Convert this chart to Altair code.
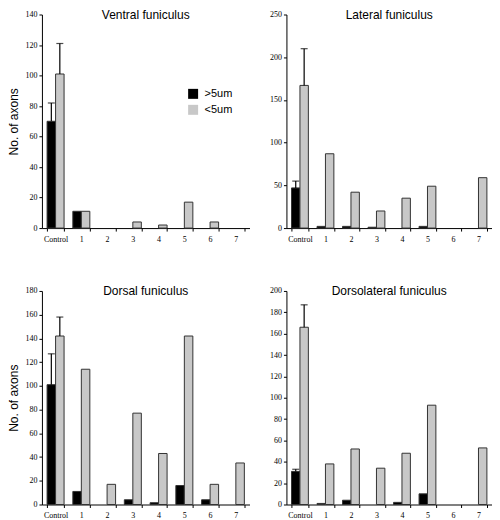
import altair as alt
import pandas as pd

categories = ["Control", "1", "2", "3", "4", "5", "6", "7"]
sizes = [">5um", "<5um"]

ventral_big = [70, 11, 0, 0, 0, 0, 0, 0]
ventral_small = [101, 11, 0, 4, 2, 17, 4, 0]
ventral_err = [12, 20]

lateral_big = [47, 2, 2, 1, 0, 2, 0, 0]
lateral_small = [167, 87, 42, 20, 35, 49, 0, 59]
lateral_err = [8, 43]

dorsal_big = [101, 11, 0, 4, 1.5, 16, 4, 0]
dorsal_small = [142, 114, 17, 77, 43, 142, 17, 35]
dorsal_err = [26, 16]

dl_big = [31, 1, 4, 0, 2, 10, 0, 0]
dl_small = [166, 38, 52, 34, 48, 93, 0, 53]
dl_err = [2, 21]

LABEL_FONT = "Liberation Sans Narrow"
TEXT_FONT = "Liberation Sans"


def panel(title, big, small, err, ymax, ystep, ytitle, legend, width, height):
    rows = []
    for i, c in enumerate(categories):
        rows.append({"cat": c, "size": sizes[0], "value": big[i],
                     "err": err[0] if c == "Control" else 0})
        rows.append({"cat": c, "size": sizes[1], "value": small[i],
                     "err": err[1] if c == "Control" else 0})
    df = pd.DataFrame(rows)
    base = alt.Chart(df)

    x = alt.X("cat:N", sort=categories,
              scale=alt.Scale(domain=categories, paddingInner=0.34, paddingOuter=0.2),
              axis=alt.Axis(title=None, labelAngle=0, tickBand="extent", tickSize=3,
                            labelFont=LABEL_FONT, labelFontSize=8, labelColor="black",
                            domainColor="black", tickColor="black", labelPadding=4,
                            grid=False))
    xo = alt.XOffset("size:N", sort=sizes, scale=alt.Scale(domain=sizes))
    yaxis = alt.Axis(values=list(range(0, ymax + 1, ystep)), title=ytitle, grid=False,
                     tickSize=3, labelFont=LABEL_FONT, labelFontSize=8,
                     labelColor="black", domainColor="black", tickColor="black",
                     titleFont=TEXT_FONT, titleFontSize=12, titleFontWeight="normal",
                     titleColor="black", labelPadding=2, titlePadding=4)
    yscale = alt.Scale(domain=[0, ymax], nice=False)

    if legend:
        leg = alt.Legend(orient="none", legendX=146, legendY=74, title=None,
                         symbolType="square", symbolSize=100, symbolStrokeWidth=0,
                         labelFont=TEXT_FONT, labelFontSize=11, labelColor="black",
                         rowPadding=4, padding=0, labelOffset=6)
    else:
        leg = None

    color = alt.Color("size:N", scale=alt.Scale(domain=sizes, range=["#000000", "#c8c8c8"]),
                      legend=leg)

    bars = base.transform_filter("datum.value > 0").mark_bar(
        stroke="#333333", strokeWidth=1
    ).encode(
        x=x, xOffset=xo,
        y=alt.Y("value:Q", scale=yscale, axis=yaxis),
        color=color,
    )
    errs = base.transform_filter("datum.err > 0").transform_calculate(
        top="datum.value + datum.err"
    )
    rule = errs.mark_rule(color="black", strokeWidth=1.2).encode(
        x=x, xOffset=xo,
        y=alt.Y("value:Q", scale=yscale, axis=yaxis),
        y2="top:Q",
    )
    cap = errs.mark_tick(color="black", thickness=1.2, size=7).encode(
        x=x, xOffset=xo,
        y=alt.Y("top:Q", scale=yscale, axis=yaxis),
    )
    return alt.layer(bars, rule, cap).properties(
        width=width, height=height,
        title=alt.TitleParams(title, font=TEXT_FONT, fontSize=12, fontWeight="normal",
                              color="black", anchor="middle", offset=-11),
    )


W1, W2, H = 208, 206, 214
tl = panel("Ventral funiculus", ventral_big, ventral_small, ventral_err, 140, 20,
           "No. of axons", True, W1, H)
tr = panel("Lateral funiculus", lateral_big, lateral_small, lateral_err, 250, 50,
           None, False, W2, H)
bl = panel("Dorsal funiculus", dorsal_big, dorsal_small, dorsal_err, 180, 20,
           "No. of axons", False, W1, H)
br = panel("Dorsolateral funiculus", dl_big, dl_small, dl_err, 200, 20,
           None, False, W2, H)


def res(c):
    return c.resolve_scale(x="independent", y="independent", color="independent",
                           xOffset="independent").resolve_legend(color="independent")


top = res(alt.hconcat(tl, tr, spacing=20))
bottom = res(alt.hconcat(bl, br, spacing=20))
chart = res(alt.vconcat(top, bottom, spacing=42)).properties(padding=0).configure_view(
    stroke=None
)

chart.save("out.html", embed_options={"renderer": "svg", "actions": False})
